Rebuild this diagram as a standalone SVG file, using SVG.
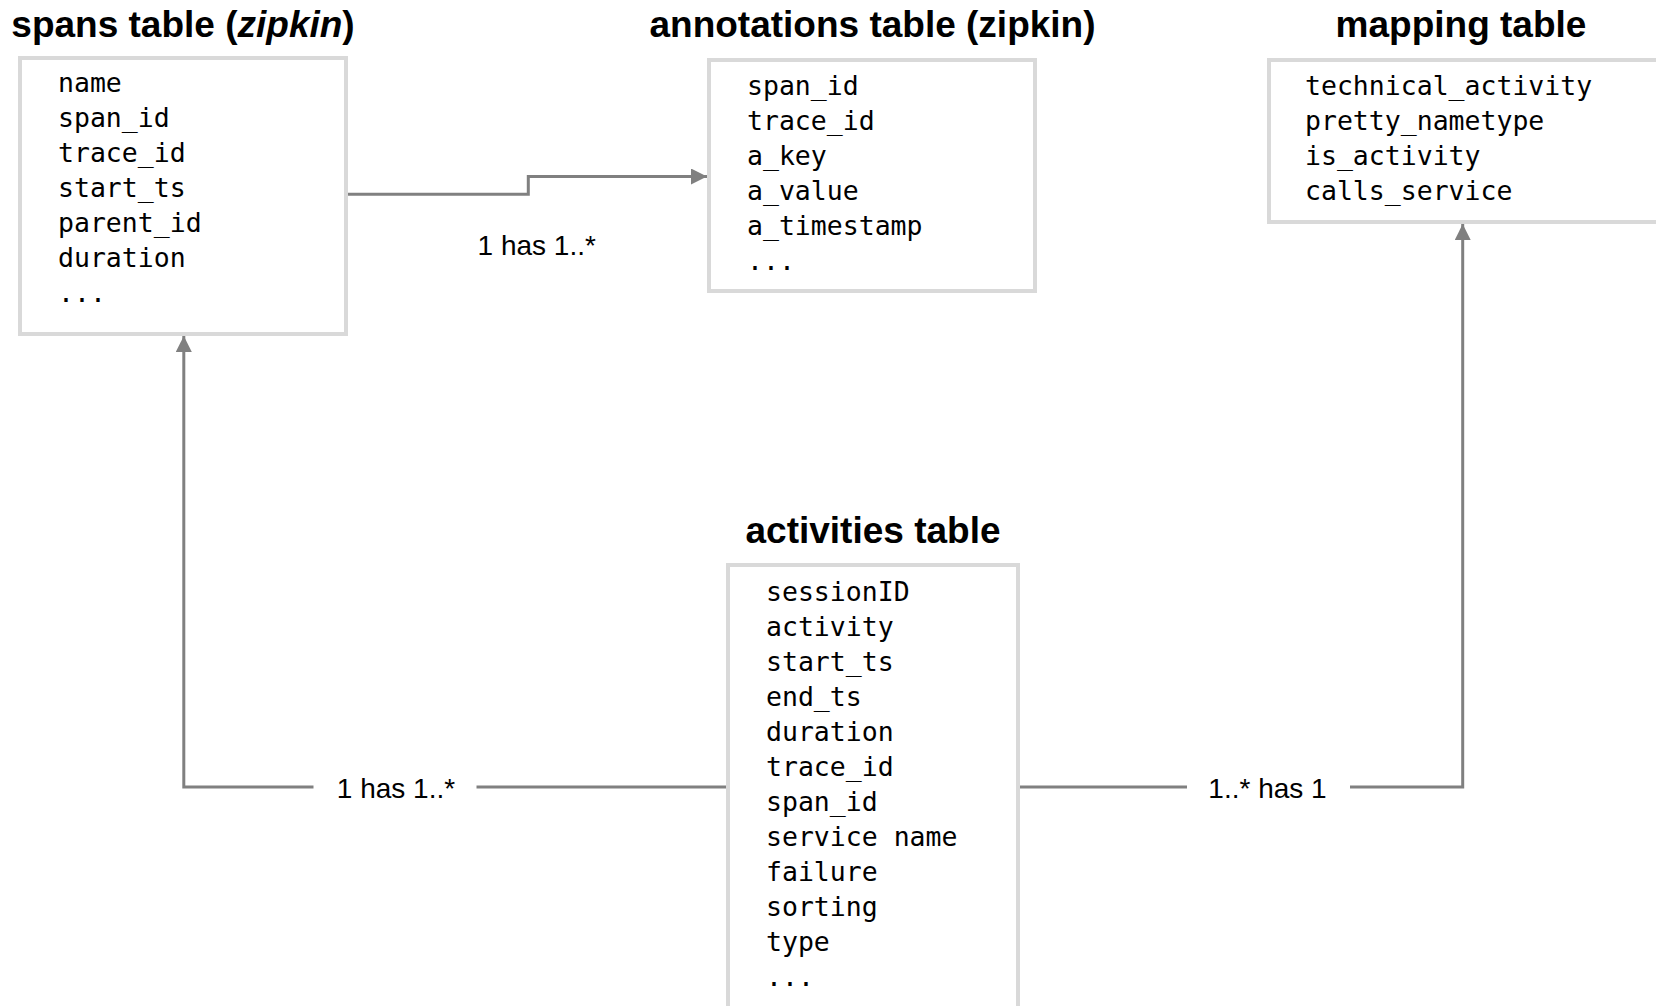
<svg xmlns="http://www.w3.org/2000/svg" width="1656" height="1006" viewBox="0 0 1656 1006">
  <style>
    .box { fill: #ffffff; stroke: #d9d9d9; stroke-width: 4; }
    .title { font-family: "Liberation Sans", Arial, Helvetica, sans-serif; font-weight: bold; font-size: 37px; fill: #000000; text-anchor: middle; }
    .field { font-family: "DejaVu Sans Mono", "Liberation Mono", monospace; font-size: 26.5px; fill: #000000; }
    .edge { fill: none; stroke: #808080; stroke-width: 3; }
    .label { font-family: "Liberation Sans", Arial, Helvetica, sans-serif; font-size: 28px; fill: #000000; text-anchor: middle; }
    .label-bg { fill: #ffffff; }
  </style>
  <defs>
    <marker id="arrow" viewBox="0 0 16 16" refX="16" refY="8" markerWidth="16" markerHeight="16" markerUnits="userSpaceOnUse" orient="auto">
      <path d="M0,0 L16,8 L0,16 Z" fill="#808080"/>
    </marker>
  </defs>

  <rect width="1656" height="1006" fill="#ffffff"/>

  <!-- relationships between tables -->
  <g id="connectors">
    <path class="edge" d="M348,194.3 H528.3 V176.5 H707" marker-end="url(#arrow)"/>
    <text class="label" x="536.7" y="255">1 has 1..*</text>

    <path class="edge" d="M726,787 H183.8 V336" marker-end="url(#arrow)"/>
    <rect class="label-bg" x="313.5" y="772" width="163" height="30"/>
    <text class="label" x="396" y="798">1 has 1..*</text>

    <path class="edge" d="M1019,787 H1462.7 V224" marker-end="url(#arrow)"/>
    <rect class="label-bg" x="1187" y="772" width="163" height="30"/>
    <text class="label" x="1267.5" y="797.5">1..* has 1</text>
  </g>

  <!-- spans table -->
  <g id="spans-table">
    <text class="title" x="183" y="37">spans table (<tspan font-style="italic">zipkin</tspan>)</text>
    <rect class="box" x="20" y="58" width="326" height="276"/>
    <text class="field">
      <tspan x="58" y="92">name</tspan>
      <tspan x="58" y="127">span_id</tspan>
      <tspan x="58" y="162">trace_id</tspan>
      <tspan x="58" y="197">start_ts</tspan>
      <tspan x="58" y="232">parent_id</tspan>
      <tspan x="58" y="267">duration</tspan>
      <tspan x="58" y="302">...</tspan>
    </text>
  </g>

  <!-- annotations table -->
  <g id="annotations-table">
    <text class="title" x="872.5" y="37">annotations table (zipkin)</text>
    <rect class="box" x="709" y="60" width="326" height="231"/>
    <text class="field">
      <tspan x="747" y="95">span_id</tspan>
      <tspan x="747" y="130">trace_id</tspan>
      <tspan x="747" y="165">a_key</tspan>
      <tspan x="747" y="200">a_value</tspan>
      <tspan x="747" y="235">a_timestamp</tspan>
      <tspan x="747" y="270">...</tspan>
    </text>
  </g>

  <!-- mapping table -->
  <g id="mapping-table">
    <text class="title" x="1461" y="37">mapping table</text>
    <rect class="box" x="1269" y="60" width="392" height="162"/>
    <text class="field">
      <tspan x="1305" y="95">technical_activity</tspan>
      <tspan x="1305" y="130">pretty_nametype</tspan>
      <tspan x="1305" y="165">is_activity</tspan>
      <tspan x="1305" y="200">calls_service</tspan>
    </text>
  </g>

  <!-- activities table -->
  <g id="activities-table">
    <text class="title" x="873" y="543">activities table</text>
    <rect class="box" x="728" y="565" width="290" height="470"/>
    <text class="field">
      <tspan x="766" y="601">sessionID</tspan>
      <tspan x="766" y="636">activity</tspan>
      <tspan x="766" y="671">start_ts</tspan>
      <tspan x="766" y="706">end_ts</tspan>
      <tspan x="766" y="741">duration</tspan>
      <tspan x="766" y="776">trace_id</tspan>
      <tspan x="766" y="811">span_id</tspan>
      <tspan x="766" y="846">service name</tspan>
      <tspan x="766" y="881">failure</tspan>
      <tspan x="766" y="916">sorting</tspan>
      <tspan x="766" y="951">type</tspan>
      <tspan x="766" y="986">...</tspan>
    </text>
  </g>
</svg>
